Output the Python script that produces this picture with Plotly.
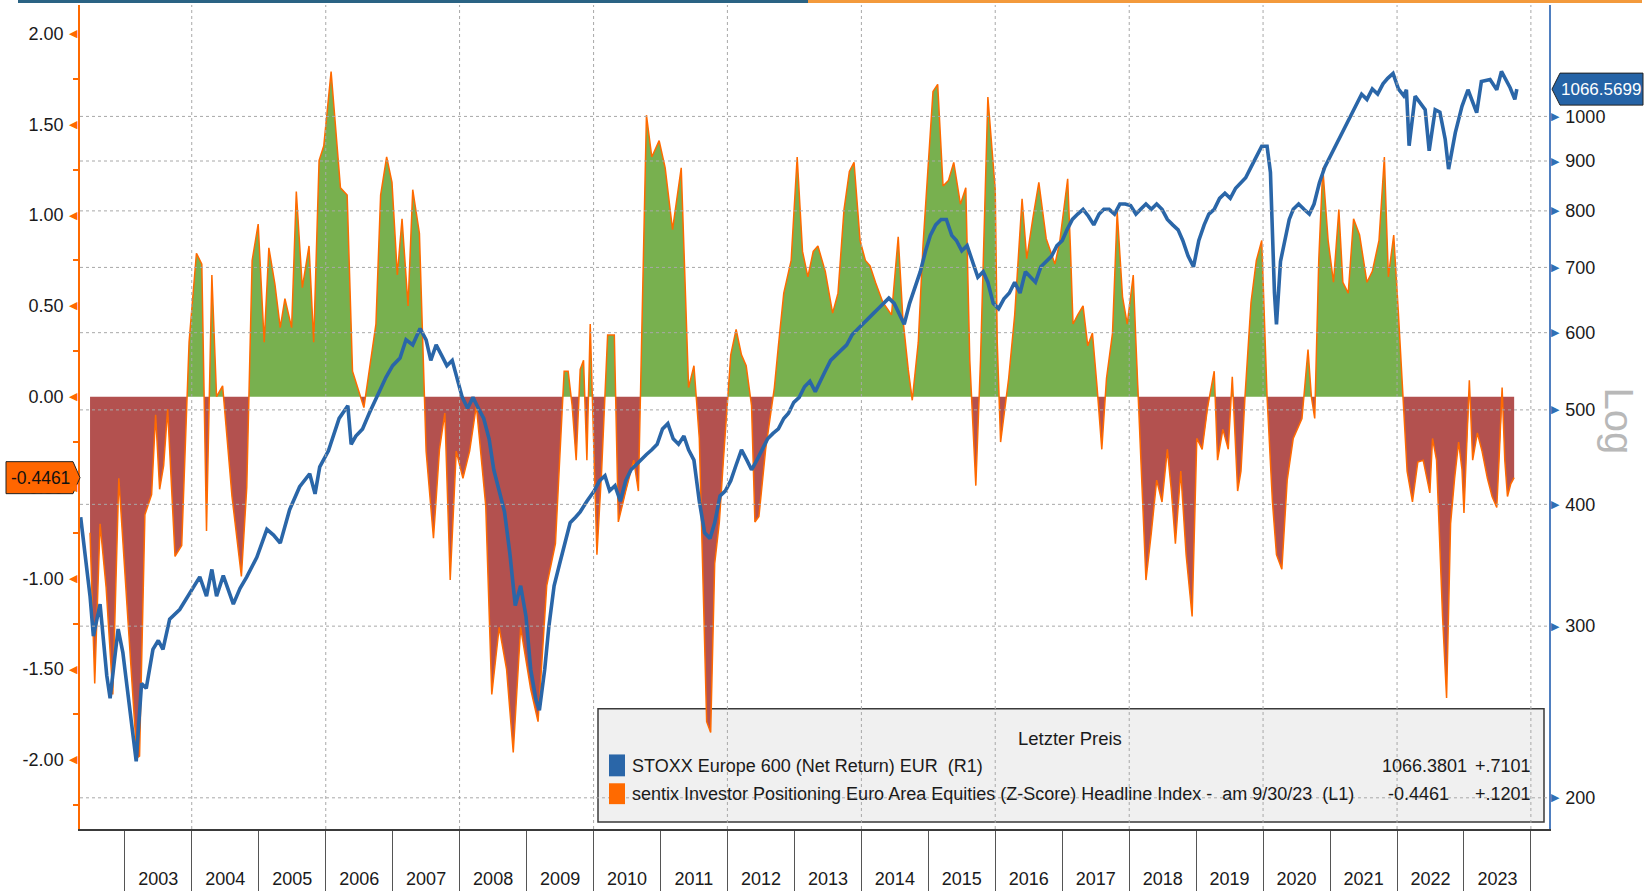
import numpy as np
import plotly.graph_objects as go
from datetime import datetime

# ---------------- data ----------------
# sentix Investor Positioning Euro Area Equities (Z-Score), decimal years
sentix_t = [2002.48, 2002.55, 2002.63, 2002.72, 2002.82, 2002.91, 2003.05, 2003.18, 2003.22, 2003.30,
            2003.40, 2003.46, 2003.52, 2003.58, 2003.64, 2003.70, 2003.75, 2003.85, 2003.96, 2004.07,
            2004.15, 2004.22, 2004.30, 2004.37, 2004.46, 2004.52, 2004.60, 2004.74, 2004.82, 2004.90,
            2004.99, 2005.08, 2005.15, 2005.24, 2005.32, 2005.39, 2005.49, 2005.56, 2005.65, 2005.75,
            2005.82, 2005.90, 2005.97, 2006.08, 2006.22, 2006.32, 2006.40, 2006.57, 2006.75, 2006.82,
            2006.91, 2006.99, 2007.07, 2007.14, 2007.23, 2007.30, 2007.40, 2007.50, 2007.61, 2007.70,
            2007.78, 2007.86, 2007.95, 2008.05, 2008.15, 2008.25, 2008.39, 2008.48, 2008.59, 2008.70,
            2008.80, 2008.91, 2009.06, 2009.17, 2009.30, 2009.43, 2009.56, 2009.62, 2009.68, 2009.74,
            2009.80, 2009.85, 2009.90, 2009.95, 2010.05, 2010.12, 2010.21, 2010.31, 2010.37, 2010.48,
            2010.60, 2010.67, 2010.79, 2010.87, 2010.98, 2011.07, 2011.18, 2011.31, 2011.42, 2011.50,
            2011.58, 2011.69, 2011.75, 2011.81, 2011.88, 2011.94, 2012.05, 2012.13, 2012.21, 2012.28,
            2012.36, 2012.41, 2012.47, 2012.57, 2012.70, 2012.76, 2012.84, 2012.95, 2013.04, 2013.12,
            2013.20, 2013.28, 2013.35, 2013.46, 2013.57, 2013.65, 2013.74, 2013.82, 2013.89, 2013.98,
            2014.06, 2014.13, 2014.21, 2014.32, 2014.45, 2014.55, 2014.62, 2014.70, 2014.76, 2014.85,
            2014.92, 2015.07, 2015.14, 2015.22, 2015.30, 2015.38, 2015.48, 2015.56, 2015.62, 2015.71,
            2015.78, 2015.89, 2016.00, 2016.03, 2016.08, 2016.20, 2016.29, 2016.40, 2016.47, 2016.56,
            2016.65, 2016.76, 2016.89, 2016.96, 2017.08, 2017.12, 2017.16, 2017.23, 2017.31, 2017.38,
            2017.45, 2017.52, 2017.59, 2017.66, 2017.75, 2017.82, 2017.90, 2017.97, 2018.06, 2018.10,
            2018.14, 2018.25, 2018.33, 2018.41, 2018.49, 2018.57, 2018.63, 2018.69, 2018.77, 2018.85,
            2018.94, 2019.01, 2019.09, 2019.17, 2019.27, 2019.32, 2019.40, 2019.48, 2019.54, 2019.62,
            2019.67, 2019.73, 2019.82, 2019.90, 2019.98, 2020.06, 2020.14, 2020.20, 2020.28, 2020.36,
            2020.45, 2020.58, 2020.67, 2020.72, 2020.77, 2020.83, 2020.89, 2020.97, 2021.05, 2021.13,
            2021.19, 2021.27, 2021.35, 2021.44, 2021.55, 2021.63, 2021.73, 2021.81, 2021.87, 2021.95,
            2022.02, 2022.09, 2022.15, 2022.23, 2022.31, 2022.39, 2022.49, 2022.53, 2022.59, 2022.68,
            2022.74, 2022.80, 2022.86, 2022.92, 2022.97, 2023.00, 2023.04, 2023.08, 2023.13, 2023.20,
            2023.27, 2023.35, 2023.42, 2023.49, 2023.53, 2023.57, 2023.61, 2023.65, 2023.70, 2023.75]
sentix_v = [-0.75, -1.58, -0.70, -1.05, -1.64, -0.45, -1.25, -1.99, -1.98, -0.65,
            -0.54, -0.10, -0.51, -0.38, -0.07, -0.50, -0.88, -0.82, 0.30, 0.79,
            0.73, -0.74, 0.67, 0.00, 0.06, -0.20, -0.55, -0.99, -0.50, 0.75,
            0.95, 0.30, 0.82, 0.62, 0.38, 0.54, 0.38, 1.13, 0.60, 0.83,
            0.30, 1.30, 1.38, 1.79, 1.15, 1.11, 0.14, -0.06, 0.40, 1.11,
            1.32, 1.18, 0.67, 0.98, 0.50, 1.14, 0.90, -0.30, -0.78, -0.29,
            -0.09, -1.01, -0.30, -0.45, -0.30, -0.05, -0.60, -1.64, -1.27, -1.50,
            -1.96, -1.27, -1.61, -1.79, -1.04, -0.81, 0.14, 0.14, -0.05, -0.35,
            0.15, 0.20, -0.35, 0.40, -0.87, -0.41, 0.34, 0.34, -0.69, -0.52,
            -0.35, -0.52, 1.55, 1.32, 1.41, 1.26, 0.92, 1.26, 0.05, 0.17,
            -0.23, -1.79, -1.85, -0.92, -0.69, -0.35, 0.23, 0.37, 0.23, 0.17,
            -0.05, -0.69, -0.66, -0.29, 0.05, 0.28, 0.57, 0.75, 1.32, 0.80,
            0.66, 0.80, 0.83, 0.69, 0.46, 0.57, 1.03, 1.24, 1.29, 0.86,
            0.75, 0.72, 0.63, 0.52, 0.45, 0.88, 0.43, 0.15, -0.02, 0.30,
            0.83, 1.68, 1.72, 1.16, 1.19, 1.29, 1.06, 1.15, 0.20, -0.49,
            0.20, 1.65, 1.14, 0.30, -0.25, 0.10, 0.45, 1.09, 0.76, 0.98,
            1.18, 0.87, 0.73, 0.85, 1.20, 0.83, 0.40, 0.45, 0.50, 0.28,
            0.35, 0.05, -0.29, 0.10, 0.35, 1.02, 0.55, 0.40, 0.67, 0.30,
            -0.05, -1.01, -0.75, -0.46, -0.58, -0.29, -0.52, -0.81, -0.41, -0.87,
            -1.21, -0.23, -0.29, -0.06, 0.14, -0.35, -0.18, -0.29, 0.11, -0.52,
            -0.41, 0.00, 0.52, 0.75, 0.86, 0.00, -0.58, -0.87, -0.95, -0.46,
            -0.23, -0.12, 0.26, 0.00, -0.12, 0.75, 1.26, 0.86, 0.63, 1.03,
            0.63, 0.57, 0.98, 0.89, 0.63, 0.69, 0.86, 1.32, 0.66, 0.89,
            0.46, 0.00, -0.41, -0.58, -0.36, -0.35, -0.53, -0.23, -0.35, -1.21,
            -1.66, -0.70, -0.45, -0.25, -0.40, -0.64, -0.30, 0.09, -0.35, -0.20,
            -0.30, -0.45, -0.55, -0.61, -0.30, 0.05, -0.35, -0.55, -0.48, -0.4461]

# STOXX Europe 600 (Net Return) EUR, decimal years
stoxx_t = [2002.34, 2002.42, 2002.48, 2002.53, 2002.58, 2002.63, 2002.73, 2002.78, 2002.84, 2002.90,
           2002.97, 2003.07, 2003.17, 2003.25, 2003.32, 2003.42, 2003.50, 2003.57, 2003.67, 2003.82,
           2003.97, 2004.12, 2004.22, 2004.30, 2004.37, 2004.47, 2004.62, 2004.72, 2004.82, 2004.97,
           2005.12, 2005.22, 2005.32, 2005.46, 2005.61, 2005.76, 2005.84, 2005.91, 2006.04, 2006.11,
           2006.20, 2006.33, 2006.38, 2006.45, 2006.55, 2006.65, 2006.76, 2006.90, 2007.00, 2007.11,
           2007.20, 2007.30, 2007.41, 2007.50, 2007.57, 2007.65, 2007.73, 2007.81,
           2007.89, 2007.96, 2008.04, 2008.12, 2008.20, 2008.28, 2008.36, 2008.44, 2008.51, 2008.59,
           2008.67, 2008.75, 2008.83, 2008.91, 2008.99, 2009.06, 2009.14, 2009.19, 2009.27, 2009.33,
           2009.41, 2009.49, 2009.57, 2009.65, 2009.73, 2009.80, 2009.90, 2010.01, 2010.09, 2010.17,
           2010.24, 2010.32, 2010.40, 2010.48, 2010.56, 2010.63, 2010.71, 2010.79, 2010.87, 2010.95,
           2011.03, 2011.11, 2011.19, 2011.27, 2011.35, 2011.42, 2011.50, 2011.58, 2011.66, 2011.74,
           2011.81, 2011.89, 2011.97, 2012.05, 2012.13, 2012.21, 2012.29, 2012.36, 2012.44, 2012.52,
           2012.60, 2012.68, 2012.76, 2012.84, 2012.91, 2012.99, 2013.07, 2013.15, 2013.23, 2013.31,
           2013.38, 2013.46, 2013.54, 2013.62, 2013.70, 2013.78, 2013.86, 2013.94, 2014.02, 2014.10,
           2014.18, 2014.25, 2014.33, 2014.41, 2014.49, 2014.56, 2014.64, 2014.72, 2014.80, 2014.88,
           2014.96, 2015.03, 2015.11, 2015.19, 2015.27, 2015.35, 2015.42, 2015.50, 2015.58, 2015.66,
           2015.74, 2015.82, 2015.89, 2015.97, 2016.05, 2016.13, 2016.21, 2016.29, 2016.37, 2016.45,
           2016.52, 2016.60, 2016.68, 2016.76, 2016.84, 2016.92, 2017.00, 2017.07, 2017.15, 2017.23,
           2017.31, 2017.39, 2017.47, 2017.55, 2017.62, 2017.70, 2017.78, 2017.86, 2017.94, 2018.02,
           2018.10, 2018.17, 2018.25, 2018.33, 2018.41, 2018.49, 2018.57, 2018.65, 2018.73, 2018.80,
           2018.88, 2018.96, 2019.04, 2019.12, 2019.19, 2019.27, 2019.35, 2019.43, 2019.51, 2019.59,
           2019.66, 2019.74, 2019.82, 2019.90, 2019.98, 2020.06, 2020.11, 2020.17, 2020.20, 2020.26,
           2020.33, 2020.39, 2020.45, 2020.53, 2020.61, 2020.69, 2020.76, 2020.84, 2020.92, 2021.00,
           2021.08, 2021.16, 2021.24, 2021.32, 2021.39, 2021.47, 2021.55, 2021.63, 2021.71, 2021.79,
           2021.86, 2021.94, 2022.02, 2022.10, 2022.14, 2022.18, 2022.27, 2022.42, 2022.48, 2022.57,
           2022.64, 2022.72, 2022.77, 2022.87, 2022.97, 2023.06, 2023.19, 2023.26, 2023.39, 2023.49,
           2023.56, 2023.69, 2023.76, 2023.79]
stoxx_v = [388, 350, 322, 293, 305, 316, 267, 253, 275, 298,
           282, 247, 218, 262, 259, 284, 290, 284, 305, 312,
           324, 337, 322, 343, 322, 338, 316, 328, 337, 353,
           377, 372, 365, 395, 417, 430, 410, 437, 454, 469,
           490, 505, 461, 470, 478, 496, 515, 540, 555, 565,
           590, 583, 606, 590, 562, 583, 569, 555,
           562, 541, 515, 502, 515, 502, 490, 467, 434, 413,
           393, 356, 315, 330, 307, 271, 252, 246, 271, 299,
           330, 347, 365, 383, 388, 393, 403, 413, 423, 428,
           413, 418, 403, 423, 434, 439, 444, 450, 455, 461,
           478, 484, 467, 461, 470, 455, 444, 403, 374, 369,
           383, 408, 413, 423, 439, 455, 444, 434, 444, 455,
           467, 473, 478, 490, 496, 509, 515, 528, 535, 522,
           535, 548, 562, 569, 576, 583, 597, 605, 612, 620,
           628, 635, 643, 651, 643, 628, 612, 643, 668, 693,
           728, 755, 774, 784, 784, 755, 746, 728, 737, 710,
           684, 693, 676, 643, 635, 650, 659, 676, 659, 693,
           684, 676, 701, 710, 719, 737, 746, 765, 784, 794,
           803, 790, 774, 794, 803, 803, 794, 813, 813, 810,
           794, 803, 813, 803, 813, 803, 784, 774, 765, 746,
           719, 701, 746, 774, 794, 803, 824, 834, 824, 844,
           855, 865, 887, 909, 932, 932, 876, 659, 612, 710,
           746, 784, 803, 813, 803, 794, 813, 855, 887, 909,
           932, 955, 979, 1003, 1028, 1054, 1041, 1067, 1054, 1080,
           1094, 1107, 1067, 1050, 1065, 933, 1049, 1016, 922, 1016,
           1010, 947, 883, 962, 1024, 1065, 1009, 1086, 1091, 1065,
           1112, 1070, 1041, 1066.57]

years = list(range(2003, 2024))
year_bounds = list(range(2003, 2025))
grid_years = list(range(2004, 2025, 2))
left_ticks = [-2.0, -1.5, -1.0, -0.5, 0.0, 0.5, 1.0, 1.5, 2.0]
left_minor = [-2.25, -1.75, -1.25, -0.75, -0.25, 0.25, 0.75, 1.25, 1.75]
right_ticks = [200, 300, 400, 500, 600, 700, 800, 900, 1000]
last_stoxx_label = "1066.5699"
last_stoxx = 1066.5699
last_sentix_label = "-0.4461"
last_sentix = -0.4461
legend_title = "Letzter Preis"
legend_rows = [
    ("STOXX Europe 600 (Net Return) EUR\u00a0\u00a0(R1)", "1066.3801", "+.7101"),
    ("sentix Investor Positioning Euro Area Equities (Z-Score) Headline Index -\u00a0\u00a0am 9/30/23\u00a0\u00a0(L1)",
     "-0.4461", "+.1201"),
]

# ---------------- helpers ----------------
def to_date(t):
    y = int(np.floor(t))
    start, end = datetime(y, 1, 1), datetime(y + 1, 1, 1)
    return start + (end - start) * (t - y)


def split_fill(ts, vs, positive):
    xs, ys = [], []
    for i in range(len(ts)):
        if i > 0 and (vs[i - 1] > 0) != (vs[i] > 0) and vs[i] != vs[i - 1]:
            tc = ts[i - 1] + (ts[i] - ts[i - 1]) * (0 - vs[i - 1]) / (vs[i] - vs[i - 1])
            xs.append(tc)
            ys.append(0.0)
        xs.append(ts[i])
        ys.append(max(vs[i], 0.0) if positive else min(vs[i], 0.0))
    return [to_date(t) for t in xs], ys


W, H = 1649, 894
ML, MR, MT, MB = 80, 100, 5, 60
PW, PH = W - ML - MR, H - MT - MB


def px(xp):
    return (xp - ML) / PW


def py(yp):
    return (H - MB - yp) / PH


FONT = "Liberation Sans, Arial, sans-serif"
ORANGE = "#ff6a00"
BLUE = "#2a66a8"
GREEN_FILL = "#78b04f"
RED_FILL = "#b3514f"
GRID = "#a8a8a8"
TXT = "#1a1a1a"

fig = go.Figure()

gx, gy = split_fill(sentix_t, sentix_v, True)
rx, ry = split_fill(sentix_t, sentix_v, False)
fig.add_trace(go.Scatter(x=gx, y=gy, mode="lines", line=dict(width=0), fill="tozeroy",
                         fillcolor=GREEN_FILL, yaxis="y", hoverinfo="skip"))
fig.add_trace(go.Scatter(x=rx, y=ry, mode="lines", line=dict(width=0), fill="tozeroy",
                         fillcolor=RED_FILL, yaxis="y", hoverinfo="skip"))
fig.add_trace(go.Scatter(x=[to_date(t) for t in sentix_t], y=sentix_v, mode="lines",
                         line=dict(color=ORANGE, width=1.5), yaxis="y"))
fig.add_trace(go.Scatter(x=[to_date(t) for t in stoxx_t], y=stoxx_v, mode="lines",
                         line=dict(color=BLUE, width=3.6), yaxis="y2"))

shapes = []
# legend box (below traces)
shapes.append(dict(type="rect", xref="paper", yref="paper", x0=px(598), x1=px(1544), y0=py(827), y1=py(713),
                   fillcolor="#f0f0f0", line=dict(color="#3a3a3a", width=1.5), layer="below"))
# gridlines drawn on top of the fills
for v in right_ticks:
    shapes.append(dict(type="line", xref="paper", yref="y2", x0=0, x1=1, y0=v, y1=v,
                       line=dict(color=GRID, width=1, dash="dot"), layer="above"))
for yv in grid_years:
    d = datetime(yv, 1, 1)
    shapes.append(dict(type="line", xref="x", yref="paper", x0=d, x1=d, y0=0, y1=1,
                       line=dict(color=GRID, width=1, dash="dot"), layer="above"))
# legend colour keys
shapes.append(dict(type="rect", xref="paper", yref="paper", x0=px(609), x1=px(625), y0=py(781), y1=py(759),
                   fillcolor=BLUE, line=dict(width=0), layer="above"))
shapes.append(dict(type="rect", xref="paper", yref="paper", x0=px(609), x1=px(625), y0=py(809), y1=py(788),
                   fillcolor=ORANGE, line=dict(width=0), layer="above"))
# last-value tags
shapes.append(dict(type="path", xref="paper", yref="y", xsizemode="pixel", ysizemode="pixel",
                   xanchor=0, yanchor=last_sentix,
                   path="M -74,-16 L -7,-16 L 0,0 L -7,16 L -74,16 Z",
                   fillcolor="#ff6600", line=dict(color="#222", width=1), layer="above"))
shapes.append(dict(type="path", xref="paper", yref="y2", xsizemode="pixel", ysizemode="pixel",
                   xanchor=1, yanchor=last_stoxx,
                   path="M 3,0 L 11,-16 L 94,-16 L 94,16 L 11,16 Z",
                   fillcolor="#2563a6", line=dict(color="#222", width=1), layer="above"))
# top stripe
shapes.append(dict(type="rect", xref="paper", yref="paper", ysizemode="pixel", yanchor=1, y0=2, y1=5,
                   x0=px(18), x1=px(808), fillcolor="#2a6384", line=dict(width=0)))
shapes.append(dict(type="rect", xref="paper", yref="paper", ysizemode="pixel", yanchor=1, y0=2, y1=5,
                   x0=px(808), x1=px(1642), fillcolor="#f39a3c", line=dict(width=0)))

ann = []
for v in left_ticks:
    ann.append(dict(text="\u25C0", xref="paper", yref="y", x=0, y=v, xanchor="right", yanchor="middle",
                    showarrow=False, font=dict(family="DejaVu Sans", size=11, color=ORANGE)))
for v in right_ticks:
    ann.append(dict(text="\u25B6", xref="paper", yref="y2", x=1, y=np.log10(v), xanchor="left",
                    yanchor="middle", showarrow=False,
                    font=dict(family="DejaVu Sans", size=11, color="#2f6fb5")))
ann.append(dict(text=last_sentix_label, xref="paper", yref="y", x=0, y=last_sentix, xshift=-40,
                xanchor="center", yanchor="middle", showarrow=False,
                font=dict(family=FONT, size=17.5, color="#111")))
ann.append(dict(text=last_stoxx_label, xref="paper", yref="y2", x=1, y=np.log10(last_stoxx), xshift=52,
                xanchor="center", yanchor="middle", showarrow=False,
                font=dict(family=FONT, size=17, color="white")))
ann.append(dict(text="Log", xref="paper", yref="paper", x=px(1619), y=py(423), textangle=90,
                xanchor="center", yanchor="middle", showarrow=False,
                font=dict(family=FONT, size=40, color="#b8b8b8")))
ann.append(dict(text=legend_title, xref="paper", yref="paper", x=px(1070), y=py(743), xanchor="center",
                yanchor="middle", showarrow=False, font=dict(family=FONT, size=18.5, color=TXT)))
row_y = [771, 799]
for (label, val, chg), ry_ in zip(legend_rows, row_y):
    ann.append(dict(text=label, xref="paper", yref="paper", x=px(630), y=py(ry_), xanchor="left",
                    yanchor="middle", showarrow=False, font=dict(family=FONT, size=18, color=TXT)))
    ann.append(dict(text=chg, xref="paper", yref="paper", x=px(1533), y=py(ry_), xanchor="right",
                    yanchor="middle", showarrow=False, font=dict(family=FONT, size=18, color=TXT)))
ann.append(dict(text=legend_rows[0][1], xref="paper", yref="paper", x=px(1469), y=py(row_y[0]),
                xanchor="right", yanchor="middle", showarrow=False,
                font=dict(family=FONT, size=18, color=TXT)))
ann.append(dict(text=legend_rows[1][1], xref="paper", yref="paper", x=px(1451), y=py(row_y[1]),
                xanchor="right", yanchor="middle", showarrow=False,
                font=dict(family=FONT, size=18, color=TXT)))

tickfont = dict(family=FONT, size=18, color=TXT)
fig.update_layout(
    width=W, height=H, margin=dict(l=ML, r=MR, t=MT, b=MB),
    paper_bgcolor="white", plot_bgcolor="white", showlegend=False,
    xaxis=dict(type="date", range=[to_date(2002.33), to_date(2024.27)],
               tickmode="array", tickvals=[to_date(y + 0.5) for y in years], ticktext=[str(y) for y in years],
               ticks="outside", ticklen=33, tickcolor="rgba(0,0,0,0)", tickfont=tickfont,
               showgrid=False, zeroline=False, showline=True, linecolor="#3a3a3a", linewidth=1.5,
               minor=dict(tickmode="array", tickvals=[datetime(y, 1, 1) for y in year_bounds],
                          ticks="outside", ticklen=60, tickcolor="#555", tickwidth=1, showgrid=False)),
    yaxis=dict(range=[-2.381, 2.157], tickmode="array", tickvals=left_ticks,
               ticktext=["%.2f" % v for v in left_ticks], ticks="outside", ticklen=11,
               tickcolor="rgba(0,0,0,0)", tickfont=tickfont, showgrid=False, zeroline=False,
               showline=True, linecolor=ORANGE, linewidth=1.5,
               minor=dict(tickmode="array", tickvals=left_minor, ticks="outside", ticklen=5,
                          tickcolor=ORANGE, tickwidth=1.5, showgrid=False)),
    yaxis2=dict(overlaying="y", side="right", type="log", range=[np.log10(185.8), np.log10(1301)],
                tickmode="array", tickvals=right_ticks, ticktext=[str(v) for v in right_ticks],
                ticks="outside", ticklen=11, tickcolor="rgba(0,0,0,0)", tickfont=tickfont,
                showgrid=False, zeroline=False, showline=True, linecolor="#4f7fc0", linewidth=1.5),
    shapes=shapes, annotations=ann,
)

fig.write_html("out.html", config={"displayModeBar": False},
               post_script="document.body.style.margin='0';")
